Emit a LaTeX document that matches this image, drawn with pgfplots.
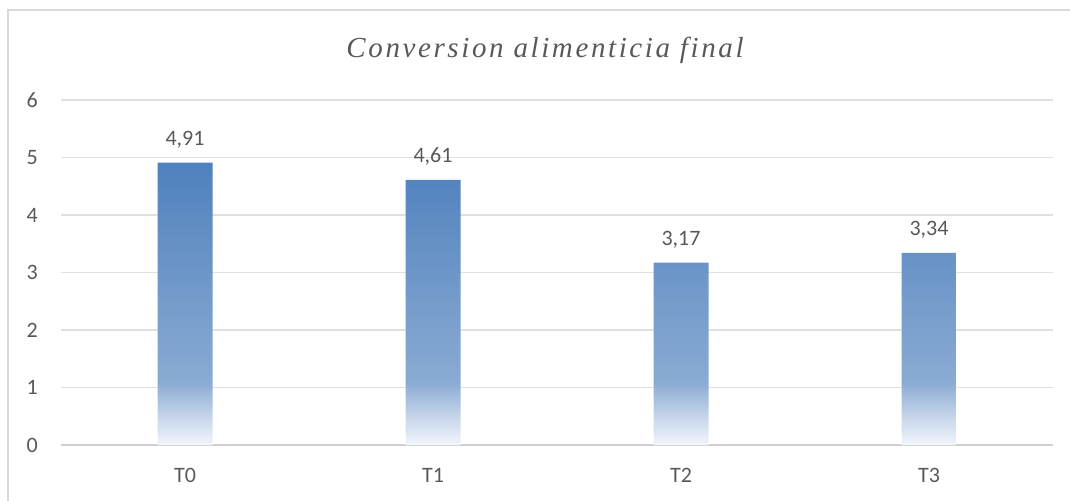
\documentclass[border=0pt]{standalone}
\usepackage{fontspec}
\setmainfont{Carlito}
\newfontfamily\titlefont[LetterSpace=9]{Liberation Serif}
\usepackage{pgfplots}
\usepackage{pgfplotstable}
\pgfplotsset{compat=1.18}

\definecolor{txt}{HTML}{595959}
\definecolor{gridc}{HTML}{E0E0E0}
\definecolor{basec}{HTML}{D0D0D0}
\definecolor{framec}{HTML}{D9D9D9}
\definecolor{bar0}{HTML}{F2F6FB}
\definecolor{bar1}{HTML}{C6D6EA}
\definecolor{bar2}{HTML}{8AABD3}
\definecolor{bar3}{HTML}{4F81BD}
% vertical fade: 25bp = bottom of a bar, 75bp = top of a bar
\pgfdeclareverticalshading{barfade}{100bp}{color(0bp)=(bar0); color(25bp)=(bar0); color(30bp)=(bar1); color(36bp)=(bar2); color(75bp)=(bar3); color(100bp)=(bar3)}

\pgfplotstableread{
x y label
0 4.91 4,91
1 4.61 4,61
2 3.17 3,17
3 3.34 3,34
}\datatable

\begin{document}
\begin{tikzpicture}
\useasboundingbox (0,0) rectangle (1070bp,501bp);
\draw[framec, line width=1.2bp] (8bp,0) -- (8bp,491bp) -- (1070bp,491bp);
\node[anchor=base, text=txt, font=\titlefont\itshape\fontsize{29bp}{32bp}\selectfont] at (545bp,443bp) {Conversion alimenticia final};
\begin{axis}[
  at={(61bp,56bp)}, anchor=south west,
  scale only axis, width=992bp, height=345bp,
  xmin=-0.5, xmax=3.5, ymin=0, ymax=6,
  ytick={1,2,3,4,5,6},
  extra y ticks={0},
  extra y tick style={grid style={basec, line width=1.4bp}},
  xtick={0,1,2,3}, xticklabels={T0,T1,T2,T3},
  ymajorgrids, grid style={gridc, line width=1.2bp},
  axis line style={draw=none},
  major tick length=0pt,
  tick label style={font=\fontsize{22bp}{26bp}\selectfont, text=txt},
  yticklabel style={inner sep=0pt, anchor=east, xshift=-23bp},
  xticklabel style={inner sep=0pt, anchor=north, yshift=-23bp},
  /pgf/number format/assume math mode=true,
  clip=false,
]
\addplot[ybar, bar width=55bp, bar shift=0pt, draw=none, shade, shading=barfade,
  nodes near coords, point meta=explicit symbolic,
  nodes near coords style={font=\fontsize{22bp}{26bp}\selectfont, text=txt, anchor=base, inner sep=0pt, yshift=17bp}]
  table[x=x, y=y, meta=label]{\datatable};
\end{axis}
\end{tikzpicture}
\end{document}
